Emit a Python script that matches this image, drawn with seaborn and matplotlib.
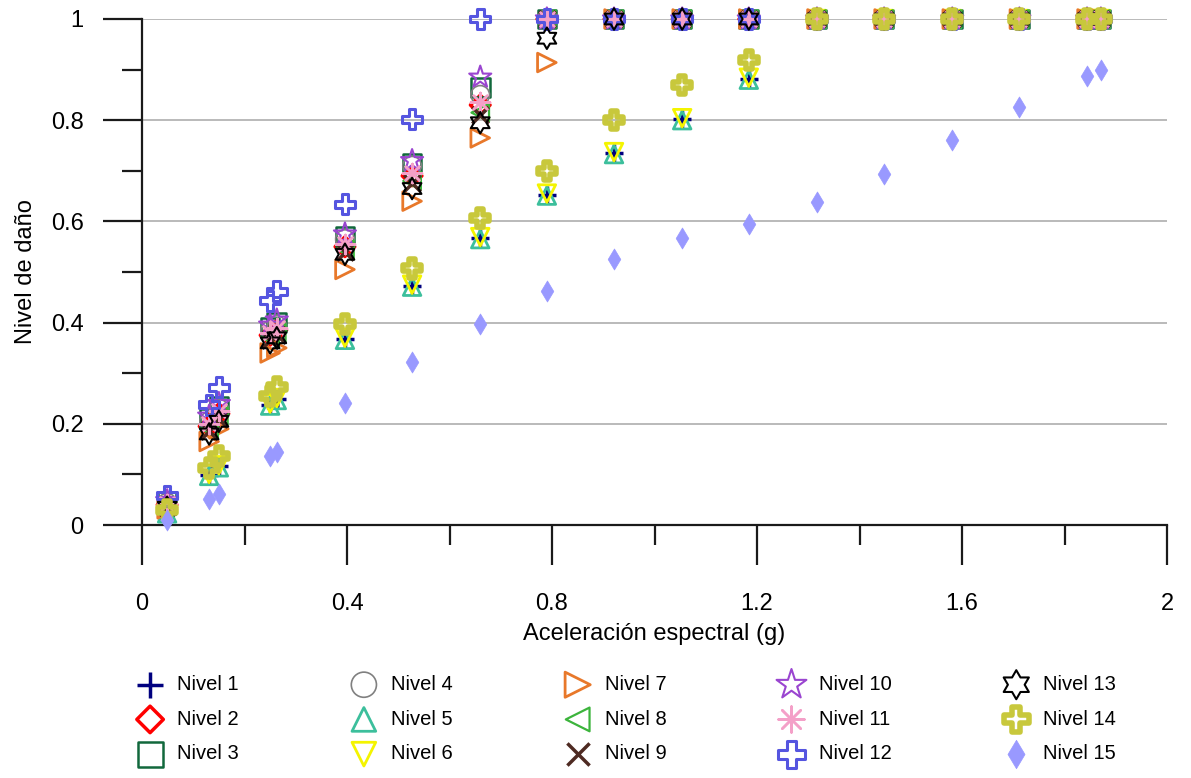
import numpy as np
import matplotlib
matplotlib.use('Agg')
import matplotlib.pyplot as plt
from matplotlib.path import Path
from matplotlib.ticker import MultipleLocator
import seaborn as sns

# spectral acceleration (g), shared by every level
sa = [0.049, 0.131, 0.150, 0.250, 0.263, 0.396, 0.527, 0.660, 0.790, 0.921,
      1.054, 1.184, 1.317, 1.448, 1.581, 1.712, 1.844, 1.871]

# damage level per floor
nivel_1 = [0.025, 0.099, 0.116, 0.238, 0.249, 0.368, 0.473, 0.567, 0.653, 0.735, 0.802, 0.882, 1, 1, 1, 1, 1, 1]
nivel_2 = [0.040, 0.195, 0.220, 0.375, 0.385, 0.550, 0.690, 0.830, 1, 1, 1, 1, 1, 1, 1, 1, 1, 1]
nivel_3 = [0.046, 0.210, 0.235, 0.390, 0.400, 0.570, 0.715, 0.865, 1, 1, 1, 1, 1, 1, 1, 1, 1, 1]
nivel_4 = [0.044, 0.205, 0.230, 0.385, 0.395, 0.565, 0.710, 0.850, 1, 1, 1, 1, 1, 1, 1, 1, 1, 1]
nivel_5 = [0.023, 0.097, 0.114, 0.236, 0.247, 0.366, 0.471, 0.565, 0.651, 0.733, 0.800, 0.880, 1, 1, 1, 1, 1, 1]
nivel_6 = [0.027, 0.101, 0.118, 0.240, 0.251, 0.370, 0.475, 0.569, 0.655, 0.737, 0.804, 0.884, 1, 1, 1, 1, 1, 1]
nivel_7 = [0.032, 0.165, 0.190, 0.340, 0.350, 0.505, 0.640, 0.765, 0.914, 1, 1, 1, 1, 1, 1, 1, 1, 1]
nivel_8 = [0.037, 0.190, 0.215, 0.370, 0.380, 0.545, 0.680, 0.815, 1, 1, 1, 1, 1, 1, 1, 1, 1, 1]
nivel_9 = [0.036, 0.185, 0.210, 0.365, 0.375, 0.540, 0.675, 0.810, 1, 1, 1, 1, 1, 1, 1, 1, 1, 1]
nivel_10 = [0.048, 0.215, 0.240, 0.395, 0.405, 0.575, 0.720, 0.885, 1, 1, 1, 1, 1, 1, 1, 1, 1, 1]
nivel_11 = [0.042, 0.200, 0.225, 0.380, 0.390, 0.555, 0.695, 0.835, 1, 1, 1, 1, 1, 1, 1, 1, 1, 1]
nivel_12 = [0.058, 0.238, 0.272, 0.443, 0.462, 0.634, 0.802, 1, 1, 1, 1, 1, 1, 1, 1, 1, 1, 1]
nivel_13 = [0.035, 0.180, 0.205, 0.360, 0.370, 0.535, 0.665, 0.795, 0.962, 1, 1, 1, 1, 1, 1, 1, 1, 1]
nivel_14 = [0.030, 0.112, 0.136, 0.255, 0.272, 0.398, 0.507, 0.607, 0.700, 0.800, 0.870, 0.919, 1, 1, 1, 1, 1, 1]
nivel_15 = [0.010, 0.051, 0.061, 0.136, 0.145, 0.242, 0.322, 0.397, 0.463, 0.525, 0.567, 0.594, 0.638, 0.694, 0.760, 0.826, 0.887, 0.899]

niveles = [nivel_1, nivel_2, nivel_3, nivel_4, nivel_5, nivel_6, nivel_7, nivel_8,
           nivel_9, nivel_10, nivel_11, nivel_12, nivel_13, nivel_14, nivel_15]
labels = ['Nivel %d' % (i + 1) for i in range(len(niveles))]

# six pointed star outline
ang = np.deg2rad(np.arange(90, 450, 30))
rad = np.tile([1.0, 0.577], 6)
verts = np.column_stack([rad * np.cos(ang), rad * np.sin(ang)])
hexagram = Path(np.vstack([verts, verts[:1]]), closed=True)

# marker, colour, face, edge width, size
styles = [
    ('+', '#00007f', None, 2.5, 180),
    ('D', '#ff0000', 'none', 2.5, 100),
    ('s', '#11683c', 'none', 1.8, 180),
    ('o', '#808080', 'none', 1.2, 180),
    ('^', '#3cbf9c', 'none', 2.0, 160),
    ('v', '#f4f400', 'none', 2.0, 160),
    ('>', '#e8782a', 'none', 2.0, 180),
    ('<', '#3cb43c', 'none', 1.6, 160),
    ('x', '#4e2a22', None, 2.5, 140),
    ('*', '#9a45d0', 'none', 1.5, 280),
    ((8, 2, 0), '#f4a0c8', None, 1.8, 190),
    ('P', '#5555e0', 'none', 2.2, 210),
    (hexagram, '#000000', 'none', 1.5, 240),
    ('P', '#c8c83c', 'none', 4.0, 170),
    ('d', '#9999ff', '#9999ff', 0.5, 115),
]

sns.set_style('white')
plt.rcParams['font.family'] = ['Liberation Sans', 'DejaVu Sans']
plt.rcParams['text.color'] = 'black'
plt.rcParams['axes.labelcolor'] = 'black'
plt.rcParams['xtick.color'] = 'black'
plt.rcParams['ytick.color'] = 'black'

fig = plt.figure(figsize=(11.91, 7.78), dpi=100)
ax = fig.add_axes([142 / 1191, 1 - 525 / 778, 1025 / 1191, 506 / 778])

for vals, lab, (m, col, face, lw, size) in zip(niveles, labels, styles):
    kw = dict(marker=m, s=size, linewidths=lw, clip_on=False, label=lab, zorder=3)
    if face is None:
        kw['color'] = col
    else:
        kw['facecolor'] = face
        kw['edgecolor'] = col
    sns.scatterplot(x=sa, y=vals, ax=ax, legend=False, **kw)

ax.set_xlim(0, 2)
ax.set_ylim(0, 1)
ax.xaxis.set_major_locator(MultipleLocator(0.4))
ax.xaxis.set_minor_locator(MultipleLocator(0.2))
ax.yaxis.set_major_locator(MultipleLocator(0.2))
ax.yaxis.set_minor_locator(MultipleLocator(0.1))
ax.xaxis.set_major_formatter(lambda v, p: '%g' % round(v, 2))
ax.yaxis.set_major_formatter(lambda v, p: '%g' % round(v, 2))
ax.grid(axis='y', which='major', color='#b4b4b4', lw=1.3)
ax.set_axisbelow(True)
sns.despine(ax=ax)
for side in ['left', 'bottom']:
    ax.spines[side].set_linewidth(1.6)
    ax.spines[side].set_color('#1a1a1a')
ax.tick_params(which='both', bottom=True, left=True, direction='out', width=1.6, color='#1a1a1a')
ax.tick_params(axis='x', which='major', length=29, pad=20, labelsize=17)
ax.tick_params(axis='x', which='minor', length=14.5)
ax.tick_params(axis='y', which='major', length=28, pad=14, labelsize=17)
ax.tick_params(axis='y', which='minor', length=14.5)
ax.set_xlabel('Aceleración espectral (g)', fontsize=17, labelpad=6)
ax.set_ylabel('Nivel de daño', fontsize=17, labelpad=10)

handles, labs = ax.get_legend_handles_labels()
fig.legend(handles, labs, ncol=5, loc='upper left', bbox_to_anchor=(138 / 1191, 1 - 675 / 778),
           frameon=False, fontsize=14.5, markerscale=1.35, handlelength=1.2, handletextpad=0.75,
           columnspacing=5.6, labelspacing=0.78, borderpad=0, borderaxespad=0)

fig.savefig('out.png', dpi=100)
